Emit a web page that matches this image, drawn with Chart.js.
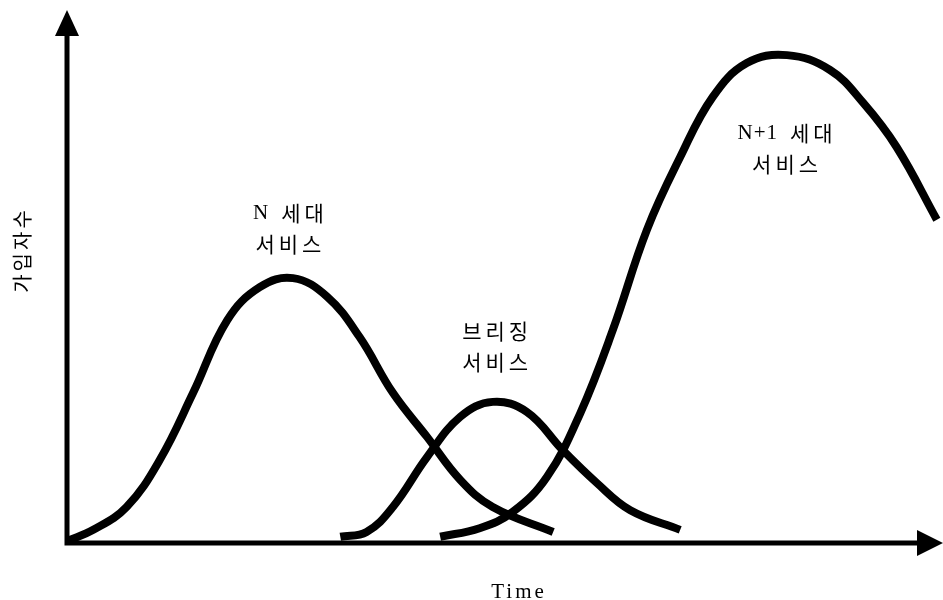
<!DOCTYPE html>
<html lang="ko">
<head>
    <meta charset="UTF-8">
    <title>가입자수 - Time</title>
    <script src="https://cdn.jsdelivr.net/npm/chart.js"></script>
    <style>
        html, body { margin: 0; padding: 0; background: #fff; }
        #wrap { width: 943px; height: 600px; }
    </style>
</head>
<body>
    <div id="wrap"><canvas id="chart" width="943" height="600"></canvas></div>

    <script>
        // values (x = time, y = subscribers, both 0..100)
        const nTime      = [0, 3.0, 6.8, 10.6, 14.4, 18.3, 22.0, 25.8, 29.7, 33.4, 37.2, 41.1, 44.9, 48.6, 55.5];
        const nSubs      = [0, 2.1, 6.4, 15.3, 27.9, 41.6, 47.8, 49.5, 46.0, 38.4, 27.9, 19.6, 11.5, 6.4, 1.7];
        const bridgeTime = [31.2, 34.2, 37.2, 41.1, 44.9, 48.6, 52.5, 56.6, 60.5, 64.3, 70.0];
        const bridgeSubs = [0.8, 1.7, 6.4, 15.8, 23.4, 26.2, 24.3, 17.1, 10.9, 5.8, 2.1];
        const n1Time     = [42.6, 47.1, 50.9, 54.8, 58.6, 62.3, 66.2, 70.0, 73.7, 77.6, 82.2, 87.1, 90.9, 94.7, 99.3];
        const n1Subs     = [0.8, 2.4, 5.5, 12.1, 24.1, 39.7, 58.6, 72.3, 83.6, 90.0, 91.5, 88.7, 82.5, 74.2, 60.5];

        const seriesNames = ["N 세대 서비스", "브리징 서비스", "N+1 세대 서비스"];
        const xTitle = "Time";
        const yTitle = "가입자수";

        // where each curve's caption sits (data units), two lines each
        const captions = [
            { lines: ["N 세대", "서비스"], x: 25.5, y: 61.7 },
            { lines: ["브리징", "서비스"], x: 49.1, y: 39.5 },
            { lines: ["N+1 세대", "서비스"], x: 82.2, y: 76.8 }
        ];

        const pts = (xs, ys) => xs.map((x, i) => ({ x: x, y: ys[i] }));

        function line(label, data) {
            return {
                label: label,
                data: data,
                borderColor: "#000",
                borderWidth: 8,
                borderCapStyle: "butt",
                borderJoinStyle: "round",
                pointRadius: 0,
                tension: 0.4,
                fill: false
            };
        }

        // latin runs in serif and tight, hangul runs in sans and spaced out
        function runsOf(text) {
            return text.split(" ").map(w => ({
                text: w,
                latin: /^[\x00-\x7f]+$/.test(w)
            }));
        }

        function setRun(ctx, r) {
            ctx.font = r.latin ? "21px 'Liberation Serif', serif" : "21px 'Noto Sans CJK KR', sans-serif";
            ctx.letterSpacing = r.latin ? "1px" : "4px";
        }

        function drawCaptionLine(ctx, text, cx, cy) {
            const runs = runsOf(text);
            const gap = 12;
            let total = 0;
            runs.forEach((r, i) => {
                setRun(ctx, r);
                r.w = ctx.measureText(r.text).width;
                total += r.w + (i ? gap : 0);
            });
            let x = cx - total / 2;
            ctx.textAlign = "left";
            runs.forEach(r => {
                setRun(ctx, r);
                ctx.fillText(r.text, x, cy);
                x += r.w + gap;
            });
        }

        const axesPlugin = {
            id: "axesArrows",
            afterDatasetsDraw(chart) {
                const ctx = chart.ctx;
                const a = chart.chartArea;
                const xs = chart.scales.x, ys = chart.scales.y;
                ctx.save();
                ctx.strokeStyle = "#000";
                ctx.fillStyle = "#000";
                ctx.lineWidth = 5;
                ctx.beginPath();
                ctx.moveTo(a.left, a.top + 20);
                ctx.lineTo(a.left, a.bottom + 2);
                ctx.lineTo(a.right - 20, a.bottom + 2);
                ctx.stroke();
                // arrow heads
                ctx.beginPath();
                ctx.moveTo(a.left, a.top);
                ctx.lineTo(a.left - 12, a.top + 26);
                ctx.lineTo(a.left + 12, a.top + 26);
                ctx.closePath();
                ctx.fill();
                ctx.beginPath();
                ctx.moveTo(a.right, a.bottom + 2);
                ctx.lineTo(a.right - 26, a.bottom - 11);
                ctx.lineTo(a.right - 26, a.bottom + 15);
                ctx.closePath();
                ctx.fill();

                // axis titles
                ctx.textAlign = "center";
                ctx.textBaseline = "middle";
                ctx.font = "21px 'Liberation Serif', serif";
                ctx.letterSpacing = "3px";
                ctx.fillText(xTitle, 519, 592);

                ctx.save();
                ctx.translate(22, 250);
                ctx.rotate(-Math.PI / 2);
                ctx.font = "20px 'Noto Sans CJK KR', sans-serif";
                ctx.letterSpacing = "3px";
                ctx.fillText(yTitle, 0, 0);
                ctx.restore();

                // curve captions
                captions.forEach(c => {
                    const px = xs.getPixelForValue(c.x);
                    const py = ys.getPixelForValue(c.y);
                    c.lines.forEach((t, i) => drawCaptionLine(ctx, t, px, py + i * 31));
                });
                ctx.restore();
            }
        };

        new Chart(document.getElementById("chart"), {
            type: "line",
            data: {
                datasets: [
                    line(seriesNames[0], pts(nTime, nSubs)),
                    line(seriesNames[1], pts(bridgeTime, bridgeSubs)),
                    line(seriesNames[2], pts(n1Time, n1Subs))
                ]
            },
            options: {
                responsive: false,
                animation: false,
                layout: { padding: { left: 67, right: 0, top: 10, bottom: 59 } },
                scales: {
                    x: { type: "linear", min: 0, max: 100, display: false },
                    y: { min: 0, max: 100, display: false }
                },
                plugins: { legend: { display: false }, tooltip: { enabled: false } }
            },
            plugins: [axesPlugin]
        });
    </script>
</body>
</html>
